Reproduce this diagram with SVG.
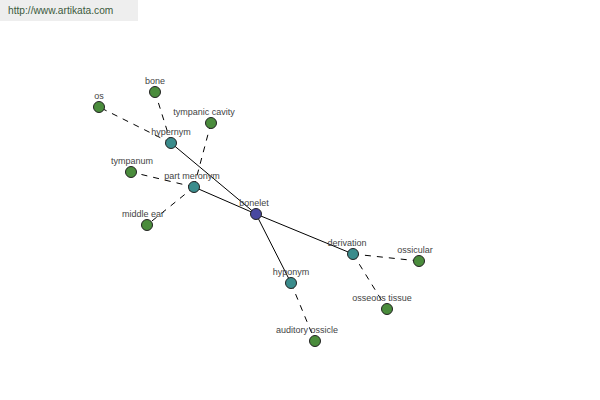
<svg xmlns="http://www.w3.org/2000/svg" width="600" height="400" viewBox="0 0 600 400">
<style>
.lbl{font-family:"Liberation Sans",Arial,sans-serif;font-size:9px;fill:#444;text-anchor:middle}
.n{stroke:#222;stroke-width:1}
.g{fill:#4a8c3c}.t{fill:#3a8c8c}.b{fill:#4848a0}
.s{stroke:#000;stroke-width:1;fill:none}
.d{stroke:#000;stroke-width:1;fill:none;stroke-dasharray:6,6}
</style>
<rect width="600" height="400" fill="#fff"/>
<rect x="0" y="0" width="138" height="21" fill="#eeeeee"/>
<text x="8" y="14" font-family="Liberation Sans,Arial,sans-serif" font-size="10.2" fill="#3c5a3c">http://www.artikata.com</text>
<g id="connectors">
<line class="s" x1="256" y1="214" x2="171" y2="143"/>
<line class="s" x1="256" y1="214" x2="194" y2="187"/>
<line class="s" x1="256" y1="214" x2="353" y2="254"/>
<line class="s" x1="256" y1="214" x2="291" y2="283"/>
<line class="d" x1="171" y1="143" x2="99" y2="107"/>
<line class="d" x1="171" y1="143" x2="155" y2="92"/>
<line class="d" x1="194" y1="187" x2="211" y2="123"/>
<line class="d" x1="194" y1="187" x2="131" y2="172"/>
<line class="d" x1="194" y1="187" x2="147" y2="225"/>
<line class="d" x1="353" y1="254" x2="419" y2="261"/>
<line class="d" x1="353" y1="254" x2="387" y2="309"/>
<line class="d" x1="291" y1="283" x2="315" y2="341"/>
</g>
<g id="os"><circle class="n g" cx="99" cy="107" r="5.5"/><text class="lbl" x="99" y="99">os</text></g>
<g id="bone"><circle class="n g" cx="155" cy="92" r="5.5"/><text class="lbl" x="155" y="84">bone</text></g>
<g id="tympanic-cavity"><circle class="n g" cx="211" cy="123" r="5.5"/><text class="lbl" x="204" y="115">tympanic cavity</text></g>
<g id="tympanum"><circle class="n g" cx="131" cy="172" r="5.5"/><text class="lbl" x="132" y="164">tympanum</text></g>
<g id="middle-ear"><circle class="n g" cx="147" cy="225" r="5.5"/><text class="lbl" x="143" y="217">middle ear</text></g>
<g id="ossicular"><circle class="n g" cx="419" cy="261" r="5.5"/><text class="lbl" x="415" y="253">ossicular</text></g>
<g id="osseous-tissue"><circle class="n g" cx="387" cy="309" r="5.5"/><text class="lbl" x="382" y="301">osseous tissue</text></g>
<g id="auditory-ossicle"><circle class="n g" cx="315" cy="341" r="5.5"/><text class="lbl" x="307" y="333">auditory ossicle</text></g>
<g id="hypernym"><circle class="n t" cx="171" cy="143" r="5.5"/><text class="lbl" x="171" y="135">hypernym</text></g>
<g id="part-meronym"><circle class="n t" cx="194" cy="187" r="5.5"/><text class="lbl" x="192" y="179">part meronym</text></g>
<g id="derivation"><circle class="n t" cx="353" cy="254" r="5.5"/><text class="lbl" x="347" y="246">derivation</text></g>
<g id="hyponym"><circle class="n t" cx="291" cy="283" r="5.5"/><text class="lbl" x="291" y="275">hyponym</text></g>
<g id="bonelet"><circle class="n b" cx="256" cy="214" r="5.5"/><text class="lbl" x="254" y="206">bonelet</text></g>
</svg>
